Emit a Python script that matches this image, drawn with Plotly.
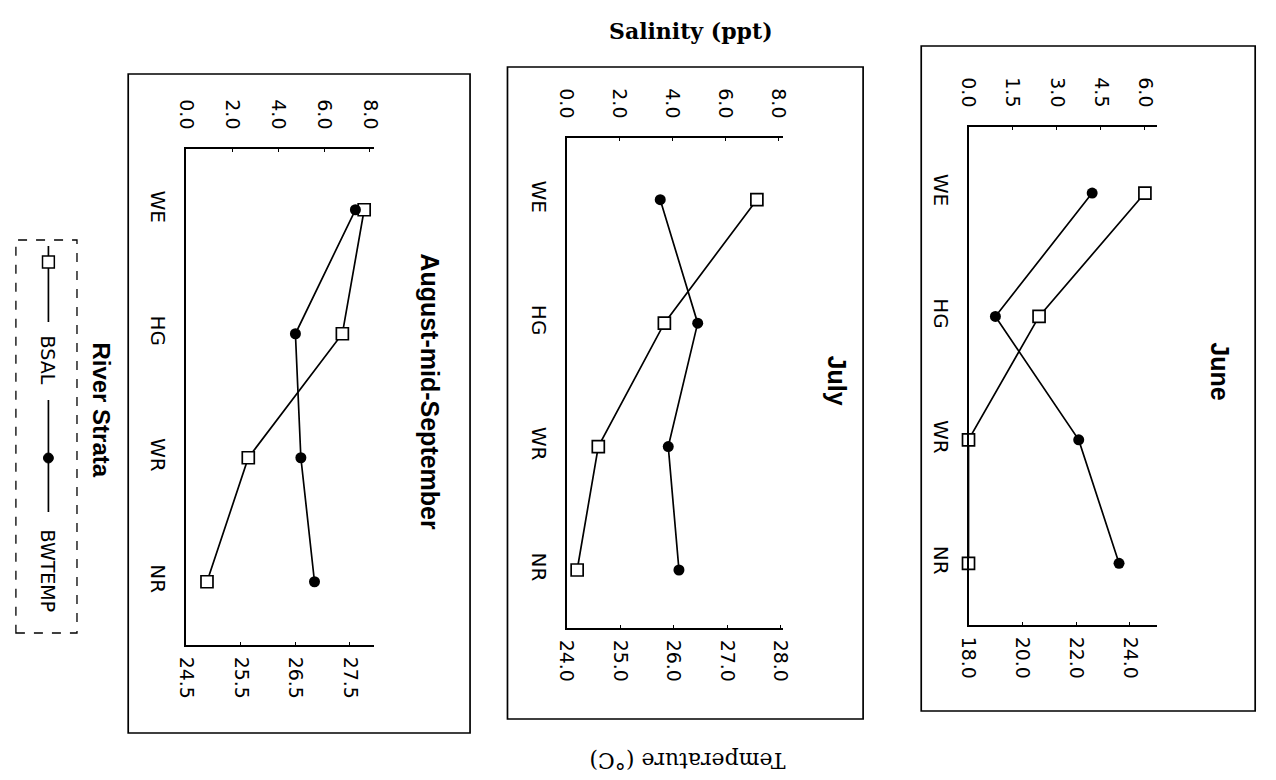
import plotly.graph_objects as go

# River strata (top to bottom) and bottom salinity / bottom water temperature
strata = ["WE", "HG", "WR", "NR"]

june_bsal = [6.0, 2.4, 0.0, 0.0]
june_bwtemp = [22.6, 19.0, 22.1, 23.6]

july_bsal = [7.2, 3.7, 1.2, 0.4]
july_bwtemp = [25.75, 26.45, 25.9, 26.1]

aug_bsal = [7.75, 6.8, 2.7, 0.9]
aug_bwtemp = [27.6, 26.5, 26.6, 26.85]

panel_titles = ["June", "July", "August-mid-September"]

june_sal_ticks = [0.0, 1.5, 3.0, 4.5, 6.0]
june_temp_ticks = [18.0, 20.0, 22.0, 24.0]
july_sal_ticks = [0.0, 2.0, 4.0, 6.0, 8.0]
july_temp_ticks = [24.0, 25.0, 26.0, 27.0, 28.0]
aug_sal_ticks = [0.0, 2.0, 4.0, 6.0, 8.0]
aug_temp_ticks = [24.5, 25.5, 26.5, 27.5]

W, H = 1276, 780


def fx(px):
    return px / W


def fy(py):
    return 1 - py / H


TICK_FONT = dict(family="DejaVu Sans", size=19, color="black")
LINE = dict(color="black", width=1.7)

# layout per panel: plot area in pixels, axis ranges, box outline, title spot
panels = [
    dict(sal=june_bsal, temp=june_bwtemp, title=panel_titles[0],
         xdom=(973, 1164), ydom=(127, 625),
         sal_range=[0, 6.4], temp_range=[18.0, 25.0], y_range=[3.5, -0.535],
         sal_ticks=june_sal_ticks, temp_ticks=june_temp_ticks,
         box=(925, 46, 1264, 711), title_xy=(1228, 371)),
    dict(sal=july_bsal, temp=july_bwtemp, title=panel_titles[1],
         xdom=(565, 785), ydom=(138, 628),
         sal_range=[0, 8.2], temp_range=[24.0, 28.05], y_range=[3.47, -0.50],
         sal_ticks=july_sal_ticks, temp_ticks=july_temp_ticks,
         box=(505, 67, 866, 719), title_xy=(840, 381)),
    dict(sal=aug_bsal, temp=aug_bwtemp, title=panel_titles[2],
         xdom=(179, 370), ydom=(149, 645),
         sal_range=[0, 8.2], temp_range=[24.5, 27.95], y_range=[3.51, -0.49],
         sal_ticks=aug_sal_ticks, temp_ticks=aug_temp_ticks,
         box=(120, 74, 467, 733), title_xy=(426, 392)),
]

fig = go.Figure()
layout = {}
shapes = []
annotations = []
ypos = list(range(len(strata)))

for i, p in enumerate(panels):
    xs = f"x{2 * i + 1}" if i else "x"
    xt = f"x{2 * i + 2}"
    ya = f"y{i + 1}" if i else "y"
    xs_key = "xaxis" + (str(2 * i + 1) if i else "")
    xt_key = "xaxis" + str(2 * i + 2)
    ya_key = "yaxis" + (str(i + 1) if i else "")

    xd = [fx(p["xdom"][0]), fx(p["xdom"][1])]
    yd = [fy(p["ydom"][1]), fy(p["ydom"][0])]

    # salinity on the upper axis
    layout[xs_key] = dict(
        domain=xd, anchor=ya, side="top", range=p["sal_range"],
        tickvals=p["sal_ticks"], ticktext=[f"{v:.1f}" for v in p["sal_ticks"]],
        tickangle=90, tickfont=TICK_FONT, showgrid=False, zeroline=False,
        showline=True, linecolor="black", linewidth=1.7,
        ticks="inside", ticklen=3, tickcolor="black", ticklabelstandoff=11,
    )
    # temperature on the lower axis
    layout[xt_key] = dict(
        domain=xd, anchor=ya, side="bottom", overlaying=xs, range=p["temp_range"],
        tickvals=p["temp_ticks"], ticktext=[f"{v:.1f}" for v in p["temp_ticks"]],
        tickangle=90, tickfont=TICK_FONT, showgrid=False, zeroline=False,
        showline=True, linecolor="black", linewidth=1.7,
        ticks="inside", ticklen=3, tickcolor="black", ticklabelstandoff=6,
    )
    layout[ya_key] = dict(
        domain=yd, anchor=xs, range=p["y_range"],
        tickvals=ypos, ticktext=strata, tickangle=90,
        tickfont=dict(family="DejaVu Sans", size=20, color="black"),
        showgrid=False, zeroline=False, showline=True,
        linecolor="black", linewidth=1.7, ticks="", ticklabelstandoff=9,
    )

    fig.add_trace(go.Scatter(
        x=p["sal"], y=ypos, xaxis=xs, yaxis=ya, mode="lines+markers",
        name="BSAL", line=LINE, cliponaxis=False,
        marker=dict(symbol="square", size=12, color="white",
                    line=dict(color="black", width=1.7)),
        showlegend=False,
    ))
    fig.add_trace(go.Scatter(
        x=p["temp"], y=ypos, xaxis=xt, yaxis=ya, mode="lines+markers",
        name="BWTEMP", line=LINE, cliponaxis=False,
        marker=dict(symbol="circle", size=11, color="black"),
        showlegend=False,
    ))

    x0, y0, x1, y1 = p["box"]
    shapes.append(dict(type="rect", xref="paper", yref="paper",
                       x0=fx(x0), x1=fx(x1), y0=fy(y1), y1=fy(y0),
                       line=dict(color="black", width=1.7)))
    tx, ty = p["title_xy"]
    annotations.append(dict(
        text=f"<b>{p['title']}</b>", x=fx(tx), y=fy(ty), xref="paper", yref="paper",
        showarrow=False, textangle=90, xanchor="center", yanchor="middle",
        font=dict(family="Liberation Sans", size=25, color="black"),
    ))

# overall axis titles
annotations.append(dict(
    text="<b>Salinity (ppt)</b>", x=fx(691), y=fy(31), xref="paper", yref="paper",
    showarrow=False, xanchor="center", yanchor="middle",
    font=dict(family="DejaVu Serif", size=22, color="black"),
))
annotations.append(dict(
    text="Temperature (°C)", x=fx(688), y=fy(761), xref="paper", yref="paper",
    showarrow=False, textangle=180, xanchor="center", yanchor="middle",
    font=dict(family="DejaVu Serif", size=22, color="black"),
))
annotations.append(dict(
    text="<b>River Strata</b>", x=fx(93), y=fy(410), xref="paper", yref="paper",
    showarrow=False, textangle=90, xanchor="center", yanchor="middle",
    font=dict(family="Liberation Sans", size=24, color="black"),
))

# key box with the two symbols
shapes.append(dict(type="rect", xref="paper", yref="paper",
                   x0=fx(6), x1=fx(68), y0=fy(633), y1=fy(240),
                   line=dict(color="black", width=1.3, dash="dash")))
kx = 39
shapes.append(dict(type="line", xref="paper", yref="paper",
                   x0=fx(kx), x1=fx(kx), y0=fy(246), y1=fy(322), line=LINE))
shapes.append(dict(type="rect", xref="paper", yref="paper",
                   x0=fx(kx - 6), x1=fx(kx + 6), y0=fy(268), y1=fy(256),
                   fillcolor="white", line=dict(color="black", width=1.5)))
shapes.append(dict(type="line", xref="paper", yref="paper",
                   x0=fx(kx), x1=fx(kx), y0=fy(400), y1=fy(512), line=LINE))
shapes.append(dict(type="circle", xref="paper", yref="paper",
                   x0=fx(kx - 5), x1=fx(kx + 5), y0=fy(463), y1=fy(453),
                   fillcolor="black", line=dict(color="black", width=1)))
annotations.append(dict(
    text="BSAL", x=fx(kx), y=fy(360), xref="paper", yref="paper",
    showarrow=False, textangle=90, xanchor="center", yanchor="middle",
    font=dict(family="DejaVu Sans", size=19, color="black"),
))
annotations.append(dict(
    text="BWTEMP", x=fx(kx), y=fy(571), xref="paper", yref="paper",
    showarrow=False, textangle=90, xanchor="center", yanchor="middle",
    font=dict(family="DejaVu Sans", size=19, color="black"),
))

fig.update_layout(
    width=W, height=H, margin=dict(l=0, r=0, t=0, b=0),
    paper_bgcolor="white", plot_bgcolor="white",
    showlegend=False, shapes=shapes, annotations=annotations,
    **layout,
)

fig.write_html("out.html")
